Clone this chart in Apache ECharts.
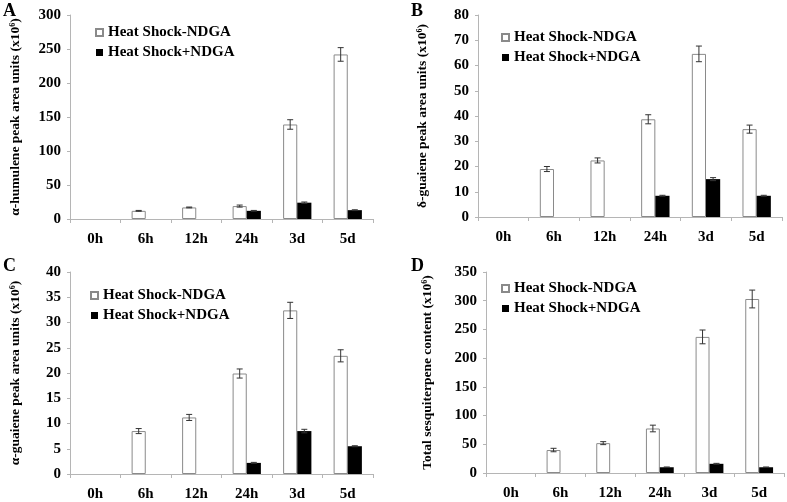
<!DOCTYPE html>
<html>
<head>
<meta charset="utf-8">
<script src="https://cdn.jsdelivr.net/npm/echarts@6/dist/echarts.min.js"></script>
<style>html,body{margin:0;padding:0;background:#fff;}#c{width:787px;height:502px;}</style>
</head>
<body>
<div id="c"></div>
<script>
const categories = ['0h','6h','12h','24h','3d','5d'];
const seriesNames = ['Heat Shock-NDGA','Heat Shock+NDGA'];

// Panel A: alpha-humulene
const aMinus = [0, 12, 17, 19, 139, 242];
const aMinusErr = [0, 0.6, 0.6, 1.5, 7, 10];
const aPlus = [0, 0, 0, 12, 24, 13];
const aPlusErr = [0, 0, 0, 0.6, 1, 0.6];
// Panel B: delta-guaiene
const bMinus = [0, 19.0, 22.4, 38.7, 64.6, 34.8];
const bMinusErr = [0, 1.0, 1.0, 1.8, 3.1, 1.6];
const bPlus = [0, 0, 0, 8.4, 15.0, 8.4];
const bPlusErr = [0, 0, 0, 0.2, 0.6, 0.2];
// Panel C: alpha-guaiene
const cMinus = [0, 8.5, 11.2, 19.9, 32.4, 23.4];
const cMinusErr = [0, 0.5, 0.6, 0.9, 1.6, 1.2];
const cPlus = [0, 0, 0, 2.2, 8.5, 5.5];
const cPlusErr = [0, 0, 0, 0.1, 0.35, 0.1];
// Panel D: total sesquiterpene
const dMinus = [0, 40, 52, 77.5, 237, 303];
const dMinusErr = [0, 3, 2.6, 5.8, 12, 15.5];
const dPlus = [0, 0, 0, 10, 16, 10];
const dPlusErr = [0, 0, 0, 0.5, 0.8, 0.5];

const yTitles = [
  'α-humulene peak area units (x10⁶)',
  'δ-guaiene peak area units (x10⁶)',
  'α-guaiene peak area units (x10⁶)',
  'Total sesquiterpene content (x10⁶)'
];
const yMax = [300, 80, 40, 350];
const yInterval = [50, 10, 5, 50];
const panelLetters = ['A','B','C','D'];

const FONT = 'Liberation Serif';
const grids = [
  {left: 70, top: 15, width: 303, height: 204},
  {left: 478, top: 15, width: 304, height: 202},
  {left: 70, top: 272, width: 303, height: 202},
  {left: 486, top: 272, width: 298, height: 201}
];
const nameGaps = [47, 48, 47, 51];
const legendPos = [
  {left: 95, top: 25},
  {left: 501, top: 30},
  {left: 90, top: 288},
  {left: 501, top: 281}
];
const letterPos = [
  {left: 3, top: 2},
  {left: 411, top: 2},
  {left: 3, top: 257},
  {left: 411, top: 257}
];

const panels = [
  [aMinus, aMinusErr, aPlus, aPlusErr],
  [bMinus, bMinusErr, bPlus, bPlusErr],
  [cMinus, cMinusErr, cPlus, cPlusErr],
  [dMinus, dMinusErr, dPlus, dPlusErr]
];

const AXIS_COLOR = '#b5b5b5';

function barData(vals) {
  return vals.map(v => (v === 0 ? null : v));
}

function errSeries(idx, vals, errs, sign) {
  return {
    type: 'custom',
    xAxisIndex: idx, yAxisIndex: idx,
    z: 5,
    silent: true,
    data: vals.map((v, i) => [i, v, errs[i]]),
    renderItem: function (params, api) {
      const i = api.value(0), v = api.value(1), e = api.value(2);
      if (!e || !v) return null;
      const hi = api.coord([i, v + e]);
      const lo = api.coord([i, v - e]);
      const w = api.size([1, 0])[0];
      const x = hi[0] + sign * w * 0.14;
      const cap = 3;
      const st = {stroke: '#333', lineWidth: 1};
      return {
        type: 'group',
        children: [
          {type: 'line', shape: {x1: x, y1: hi[1], x2: x, y2: lo[1]}, style: st},
          {type: 'line', shape: {x1: x - cap, y1: hi[1], x2: x + cap, y2: hi[1]}, style: st},
          {type: 'line', shape: {x1: x - cap, y1: lo[1], x2: x + cap, y2: lo[1]}, style: st}
        ]
      };
    }
  };
}

const option = {
  backgroundColor: '#fff',
  animation: false,
  textStyle: {fontFamily: FONT},
  title: panelLetters.map((t, i) => ({
    text: t, left: letterPos[i].left, top: letterPos[i].top, padding: 0,
    textStyle: {fontFamily: FONT, fontWeight: 'bold', fontSize: 18, color: '#000'}
  })),
  legend: legendPos.map(p => ({
    data: seriesNames,
    orient: 'vertical',
    left: p.left, top: p.top,
    icon: 'rect',
    itemWidth: 7, itemHeight: 7,
    itemGap: 5,
    padding: 0,
    selectedMode: false,
    textStyle: {fontFamily: FONT, fontWeight: 'bold', fontSize: 15, color: '#000'}
  })),
  grid: grids.map(g => Object.assign({containLabel: false}, g)),
  xAxis: grids.map((g, i) => ({
    type: 'category',
    gridIndex: i,
    data: categories,
    axisLine: {lineStyle: {color: AXIS_COLOR, width: 1}},
    axisTick: {show: true, length: 4, lineStyle: {color: AXIS_COLOR}},
    axisLabel: {fontFamily: FONT, fontWeight: 'bold', fontSize: 15, color: '#000', margin: 13}
  })),
  yAxis: grids.map((g, i) => ({
    type: 'value',
    gridIndex: i,
    min: 0, max: yMax[i], interval: yInterval[i],
    name: yTitles[i],
    nameLocation: 'middle',
    nameRotate: 90,
    nameGap: nameGaps[i],
    nameTextStyle: {fontFamily: FONT, fontWeight: 'bold', fontSize: 13.5, color: '#000'},
    splitLine: {show: false},
    axisLine: {show: true, lineStyle: {color: AXIS_COLOR, width: 1}},
    axisTick: {show: true, length: 3, lineStyle: {color: AXIS_COLOR}},
    axisLabel: {fontFamily: FONT, fontWeight: 'bold', fontSize: 15, color: '#000', margin: 9}
  })),
  series: []
};

panels.forEach((p, i) => {
  option.series.push({
    name: seriesNames[0], type: 'bar', xAxisIndex: i, yAxisIndex: i,
    data: barData(p[0]), barWidth: '28%', barGap: '0%',
    itemStyle: {color: '#fff', borderColor: '#8a8a8a', borderWidth: 1}
  });
  option.series.push({
    name: seriesNames[1], type: 'bar', xAxisIndex: i, yAxisIndex: i,
    data: barData(p[2]), barWidth: '28%', barGap: '0%',
    itemStyle: {color: '#000', borderColor: '#000', borderWidth: 0}
  });
  option.series.push(errSeries(i, p[0], p[1], -1));
  option.series.push(errSeries(i, p[2], p[3], 1));
});

const chart = echarts.init(document.getElementById('c'), null, {renderer: 'canvas'});
chart.setOption(option);
</script>
</body>
</html>
